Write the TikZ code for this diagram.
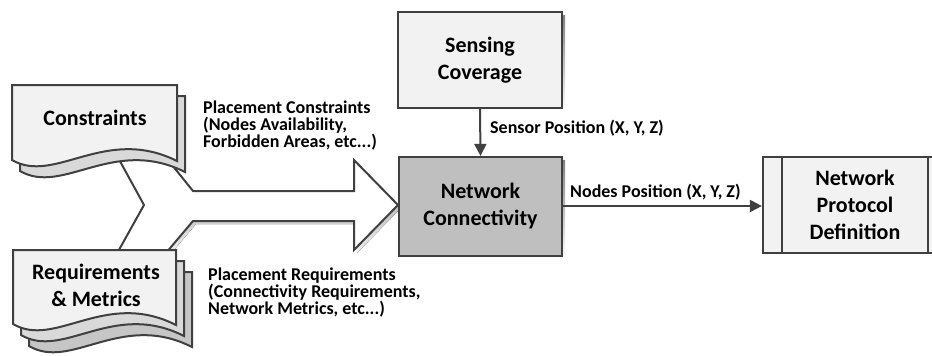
\documentclass[tikz,border=0pt]{standalone}
\usepackage{fontspec}
\setmainfont{Carlito}
\usetikzlibrary{arrows.meta,calc}

\definecolor{edge}{HTML}{404040}
\definecolor{paper}{HTML}{F2F2F2}
\definecolor{core}{HTML}{BFBFBF}
\definecolor{layerA}{HTML}{D9D9D9}
\definecolor{layerB}{HTML}{C6C6C6}
\definecolor{shade}{HTML}{DCDCDC}

% document outline: top-left corner (#1,#2), width #3, height #4 (left side)
\newcommand\docpath[4]{%
  (#1,#2) -- (#1+#3,#2) -- (#1+#3,#2+#4+1)
  .. controls (#1+0.564*#3,#2+#4-35) and (#1+0.26*#3,#2+#4+25) ..
  (#1,#2+#4) -- cycle}

\tikzset{
  boxtext/.style={font=\bfseries\fontsize{22}{27}\selectfont, align=center, text=black},
  procbox/.style={draw=edge, line width=2.2pt, fill=paper, boxtext},
  labeltext/.style={font=\bfseries\fontsize{18}{17}\selectfont, align=left, text=black, inner sep=0pt},
  conn/.style={draw=edge, line width=2pt, -{Triangle[length=12pt,width=12pt]}},
  sheet/.style={draw=edge, line width=2pt},
}

\begin{document}
\begin{tikzpicture}[x=1pt, y=-1pt]
\useasboundingbox (0,0) rectangle (932,356);

% merging arrow (shadow, then body)
\fill[shade, shift={(3,3)}] (160,150) -- (193,191) -- (354,191) -- (354,160) -- (398,205)
  -- (354,250) -- (354,221) -- (193,221) -- (155,266) -- (110,266) -- (144,205)
  -- (110,143) -- cycle;
\draw[edge, line width=2pt, fill=white, line join=miter]
  (160,150) -- (193,191) -- (354,191) -- (354,160) -- (398,205)
  -- (354,250) -- (354,221) -- (193,221) -- (155,266) -- (110,266) -- (144,205)
  -- (110,143) -- cycle;

% constraints document stack
\draw[sheet, fill=layerA] \docpath{20}{96}{165}{75};
\draw[sheet, fill=paper] \docpath{12}{85}{165}{75};
\node[boxtext] (cons) at (95,118) {Constraints};

% requirements document stack
\draw[sheet, fill=layerB] \docpath{29}{272}{163}{74};
\draw[sheet, fill=layerA] \docpath{21}{261}{163}{74};
\draw[sheet, fill=paper] \docpath{13}{250}{163}{74};
\node[boxtext] (reqs) at (96,285) {Requirements\\\& Metrics};

% process boxes with shadows
\fill[shade] (401,15) rectangle (565,111);
\node[procbox, minimum width=164pt, minimum height=96pt] (sense) at (480,60) {Sensing\\Coverage};

\fill[shade] (402,160) rectangle (565,259);
\node[procbox, fill=core, minimum width=163pt, minimum height=99pt] (net) at (480.5,206.5) {Network\\Connectivity};

\fill[shade] (766,160) rectangle (950,256);
\node[procbox, minimum width=184pt, minimum height=96pt] (proto) at (855,205) {Network\\Protocol\\Definition};
\draw[edge, line width=2pt] ($(proto.north west)+(20,0)$) -- ($(proto.south west)+(20,0)$);
\draw[edge, line width=2pt] ($(proto.north east)+(-20,0)$) -- ($(proto.south east)+(-20,0)$);

% connectors
\draw[conn] (sense.south) -- (net.north);
\draw[conn] (net.east |- 0,206) -- (proto.west |- 0,206);

% labels
\node[labeltext, anchor=west] (lsense) at (490,128) {Sensor Position (X, Y, Z)};
\node[labeltext, anchor=west] (lnodes) at (570,192) {Nodes Position (X, Y, Z)};
\node[labeltext, anchor=north west] (lcons) at (203,101) {Placement Constraints\\(Nodes Availability,\\Forbidden Areas, etc...)};
\node[labeltext, anchor=north west] (lreqs) at (208,268) {Placement Requirements\\(Connectivity Requirements,\\Network Metrics, etc...)};
\end{tikzpicture}
\end{document}
